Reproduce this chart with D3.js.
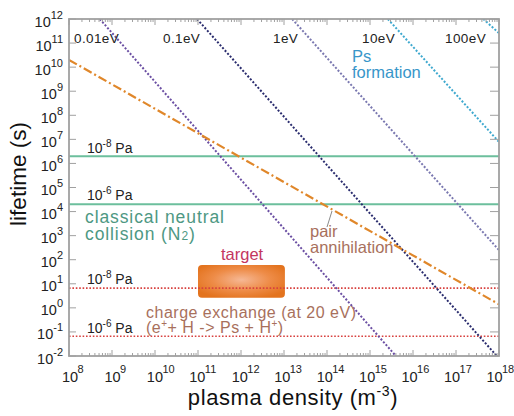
<!DOCTYPE html>
<html><head><meta charset="utf-8">
<script src="https://cdn.jsdelivr.net/npm/d3@7"></script>
<style>
body{margin:0;background:#fff}
svg{display:block}
text{font-family:"Liberation Sans",Arial,Helvetica,sans-serif}
</style>
</head><body>
<svg id="chart" width="514" height="416"></svg>
<script>
// ---------- data ----------
const xDomain = [1e8, 1e18];
const yDomain = [1e-2, 1e12];
const xTickExps = [8, 9, 10, 11, 12, 13, 14, 15, 16, 17, 18];
const yTickExps = [-2, -1, 0, 1, 2, 3, 4, 5, 6, 7, 8, 9, 10, 11, 12];

// electron temperature lines (tau ~ n^-2)
const energyLabels = ["0.01eV", "0.1eV", "1eV", "10eV", "100eV"];
const energyStartN = [5.2e8, 9.5e10, 1.55e13, 2.6e15, 4.3e17];   // density where tau = 1e12
const energyStartTau = [1e12, 1e12, 1e12, 1e12, 1e12];
const energyEndN = [4.0e15, 8.9e17, 1e18, 1e18, 1e18];
const energyEndTau = [1e-2, 1e-2, 2.5e2, 7.8e6, 2.6e11];

// pair annihilation
const pairN = [1e8, 1e18];
const pairTau = [2.0e10, 1.4];

// classical neutral collision (N2)
const neutralTau = [2e6, 2e4];
const neutralPressureExp = ["-8", "-6"];

// charge exchange (at 20 eV)
const chargeTau = [6.6, 0.066];
const chargePressureExp = ["-8", "-6"];

// target region
const targetN = [1e11, 1.05e13];
const targetTau = [2.6, 60];

// ---------- layout ----------
const svg = d3.select("#chart");
const M = {left: 69, right: 499, top: 19, bottom: 356};
const x = d3.scaleLog().domain(xDomain).range([M.left, M.right]);
const y = d3.scaleLog().domain(yDomain).range([M.bottom, M.top]);

const colors = {
  energy: ["#6b4fa3", "#2a2c6e", "#7a78b0", "#3fa9cf", "#3fa9cf"],
  pair: "#e0872a",
  neutral: "#6cbf9d",
  neutralText: "#4e9883",
  charge: "#d8413f",
  chargeText: "#a8705c",
  target: "#c3365f",
  ps: "#3896c9",
  frame: "#a0a0a0"
};

const defs = svg.append("defs");
defs.append("clipPath").attr("id", "clip")
  .append("rect").attr("x", M.left).attr("y", M.top)
  .attr("width", M.right - M.left).attr("height", M.bottom - M.top);

const grad = defs.append("radialGradient").attr("id", "tg")
  .attr("cx", "50%").attr("cy", "45%").attr("r", "60%");
grad.append("stop").attr("offset", "0%").attr("stop-color", "#f6b895");
grad.append("stop").attr("offset", "55%").attr("stop-color", "#ee8c48");
grad.append("stop").attr("offset", "100%").attr("stop-color", "#e3731e");

const plot = svg.append("g").attr("clip-path", "url(#clip)");
const line = d3.line().x(d => x(d[0])).y(d => y(d[1]));

// target box
plot.append("rect")
  .attr("x", x(targetN[0])).attr("y", y(targetTau[1]))
  .attr("width", x(targetN[1]) - x(targetN[0]))
  .attr("height", y(targetTau[0]) - y(targetTau[1]))
  .attr("rx", 4).attr("fill", "url(#tg)");

// neutral collision lines
neutralTau.forEach(t => {
  plot.append("path").datum([[xDomain[0], t], [xDomain[1], t]])
    .attr("d", line).attr("stroke", colors.neutral).attr("stroke-width", 2).attr("fill", "none");
});
// charge exchange lines
chargeTau.forEach(t => {
  plot.append("path").datum([[xDomain[0], t], [xDomain[1], t]])
    .attr("d", line).attr("stroke", colors.charge).attr("stroke-width", 1.6)
    .attr("stroke-dasharray", "1.6,1.8").attr("fill", "none");
});
// energy lines
energyLabels.forEach((lab, i) => {
  plot.append("path")
    .datum([[energyStartN[i], energyStartTau[i]], [energyEndN[i], energyEndTau[i]]])
    .attr("d", line).attr("stroke", colors.energy[i]).attr("stroke-width", 2)
    .attr("stroke-dasharray", "2,1.8").attr("fill", "none");
});
// pair annihilation
plot.append("path").datum(pairN.map((n, i) => [n, pairTau[i]]))
  .attr("d", line).attr("stroke", colors.pair).attr("stroke-width", 2.2)
  .attr("stroke-dasharray", "9,3,2,3").attr("fill", "none");

// ---------- frame & ticks ----------
svg.append("rect").attr("x", M.left).attr("y", M.top)
  .attr("width", M.right - M.left).attr("height", M.bottom - M.top)
  .attr("fill", "none").attr("stroke", colors.frame).attr("stroke-width", 1.8);

const ticks = svg.append("g").attr("stroke", colors.frame).attr("stroke-width", 1);
xTickExps.forEach(e => {
  const px = x(Math.pow(10, e));
  ticks.append("line").attr("x1", px).attr("x2", px).attr("y1", M.bottom).attr("y2", M.bottom - 6);
  ticks.append("line").attr("x1", px).attr("x2", px).attr("y1", M.top).attr("y2", M.top + 6);
  if (e < 18) for (let k = 2; k <= 9; k++) {
    const mx = x(k * Math.pow(10, e));
    ticks.append("line").attr("x1", mx).attr("x2", mx).attr("y1", M.bottom).attr("y2", M.bottom - 3);
    ticks.append("line").attr("x1", mx).attr("x2", mx).attr("y1", M.top).attr("y2", M.top + 3);
  }
});
yTickExps.forEach(e => {
  const py = y(Math.pow(10, e));
  ticks.append("line").attr("x1", M.left).attr("x2", M.left + 7).attr("y1", py).attr("y2", py);
  ticks.append("line").attr("x1", M.right).attr("x2", M.right - 9).attr("y1", py).attr("y2", py);
});

// tick labels
const tl = svg.append("g").attr("fill", "#222");
yTickExps.forEach(e => {
  const t = tl.append("text").attr("x", 63).attr("y", y(Math.pow(10, e)) + 7.5)
    .attr("text-anchor", "end").attr("font-size", 14.5);
  t.append("tspan").text("10");
  t.append("tspan").attr("font-size", 11).attr("dy", -8).text(String(e));
});
xTickExps.forEach(e => {
  const px = x(Math.pow(10, e)) + 1 - 0.55 * (e - 8);
  tl.append("text").attr("x", px).attr("y", 382).attr("text-anchor", "middle")
    .attr("font-size", 14.5).text("10");
  tl.append("text").attr("x", px + 7.5).attr("y", 373).attr("text-anchor", "start")
    .attr("font-size", 11).text(e);
});

// axis titles
svg.append("text").attr("x", 293).attr("y", 405).attr("text-anchor", "middle")
  .attr("font-size", 22).attr("letter-spacing", 0.6).attr("fill", "#111")
  .call(t => {
    t.append("tspan").text("plasma density (m");
    t.append("tspan").attr("font-size", 14).attr("dy", -9).text("-3");
    t.append("tspan").attr("dy", 9).text(")");
  });
svg.append("text").attr("transform", "translate(26,174) rotate(-90)")
  .attr("text-anchor", "middle").attr("font-size", 22.5).attr("fill", "#111")
  .text("lifetime (s)");

// ---------- annotations ----------
const eLabelX = [74, 163, 273, 362, 445];
energyLabels.forEach((lab, i) => {
  svg.append("text").attr("x", eLabelX[i]).attr("y", 43).attr("font-size", 13.5)
    .attr("letter-spacing", 0.4).attr("fill", "#222").text(lab);
});

svg.append("text").attr("x", 352).attr("y", 62).attr("font-size", 16.5).attr("fill", colors.ps).text("Ps");
svg.append("text").attr("x", 352).attr("y", 78).attr("font-size", 16.5).attr("fill", colors.ps).text("formation");

function paLabel(xp, yp, exp) {
  const t = svg.append("text").attr("x", xp).attr("y", yp).attr("fill", "#222").attr("font-size", 14);
  t.append("tspan").text("10");
  t.append("tspan").attr("font-size", 10).attr("dy", -6).text(exp);
  t.append("tspan").attr("dy", 6).text(" Pa");
}
paLabel(87, 153, neutralPressureExp[0]);
paLabel(87, 200, neutralPressureExp[1]);
paLabel(87, 284, chargePressureExp[0]);
paLabel(87, 333, chargePressureExp[1]);

svg.append("text").attr("x", 85).attr("y", 223).attr("font-size", 17.5).attr("letter-spacing", 0.9)
  .attr("fill", colors.neutralText).text("classical neutral");
svg.append("text").attr("x", 85).attr("y", 240).attr("font-size", 17.5).attr("letter-spacing", 0.9)
  .attr("fill", colors.neutralText)
  .call(t => {
    t.append("tspan").text("collision (N");
    t.append("tspan").attr("font-size", 12).text("2");
    t.append("tspan").text(")");
  });

svg.append("text").attr("x", 221).attr("y", 260).attr("font-size", 16.5).attr("fill", colors.target).text("target");

svg.append("text").attr("x", 146).attr("y", 318).attr("font-size", 16).attr("letter-spacing", 0.5)
  .attr("fill", colors.chargeText).text("charge exchange (at 20 eV)");
svg.append("text").attr("x", 146).attr("y", 333).attr("font-size", 16).attr("letter-spacing", 0.5)
  .attr("fill", colors.chargeText)
  .call(t => {
    t.append("tspan").text("(e");
    t.append("tspan").attr("font-size", 10).attr("dy", -6).text("+");
    t.append("tspan").attr("dy", 6).text("+ H -> Ps + H");
    t.append("tspan").attr("font-size", 10).attr("dy", -6).text("+");
    t.append("tspan").attr("dy", 6).text(")");
  });

svg.append("text").attr("x", 310).attr("y", 237).attr("font-size", 16.5).attr("fill", colors.chargeText).text("pair");
svg.append("text").attr("x", 310).attr("y", 253).attr("font-size", 16.5).attr("fill", colors.chargeText).text("annihilation");
svg.append("line").attr("x1", 332).attr("y1", 211).attr("x2", 327).attr("y2", 227)
  .attr("stroke", "#8a8a8a").attr("stroke-width", 1);
</script>
</body></html>
